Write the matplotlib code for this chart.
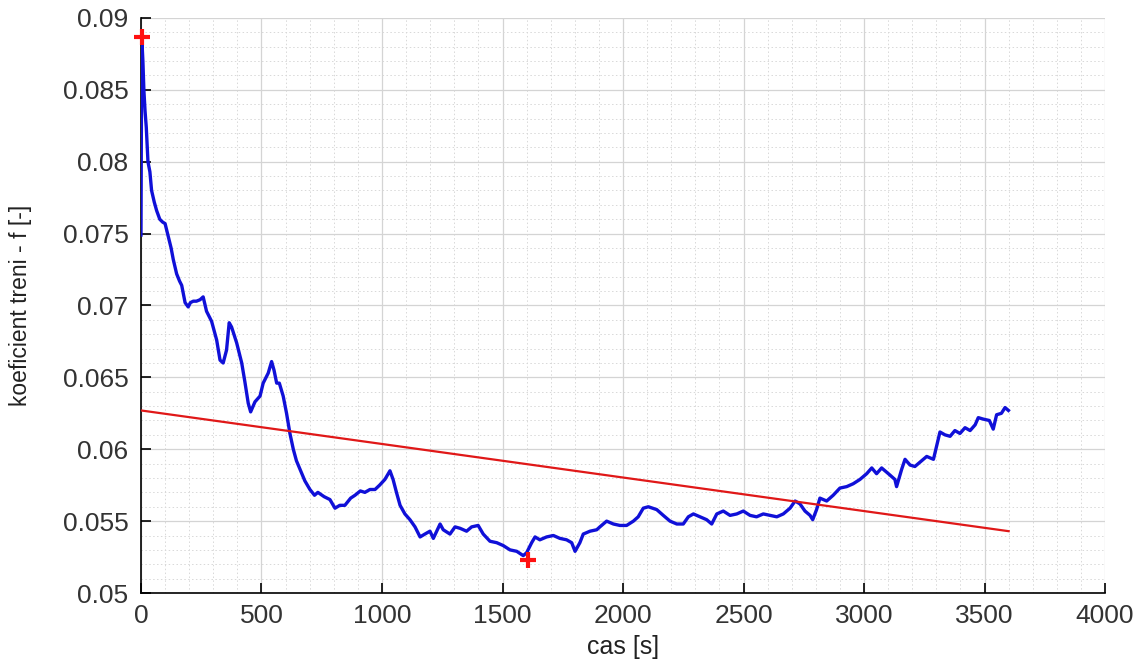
import matplotlib
matplotlib.use("Agg")
import matplotlib.pyplot as plt
from matplotlib.ticker import MultipleLocator

plt.rcParams['font.family'] = ['Liberation Sans', 'DejaVu Sans']

# measured friction coefficient over time
time_s = [0, 3, 8, 12, 17, 22, 29, 37, 44, 55, 65, 78, 90, 100, 113, 125, 134, 148, 160, 169,
          183, 196, 205, 217, 230, 245, 258, 265, 272, 293, 314, 328, 341, 355, 366, 376, 397,
          418, 431, 445, 455, 473, 494, 507, 528, 542, 552, 563, 574, 590, 604, 618, 632, 645,
          660, 680, 701, 720, 734, 760, 784, 805, 825, 846, 870, 888, 910, 929, 950, 971, 990,
          1012, 1033, 1046, 1060, 1075, 1095, 1116, 1137, 1158, 1178, 1199, 1213, 1241, 1254,
          1282, 1303, 1324, 1351, 1372, 1399, 1420, 1448, 1476, 1503, 1531, 1559, 1586, 1600,
          1621, 1635, 1655, 1683, 1711, 1738, 1766, 1787, 1801, 1821, 1835, 1863, 1891, 1904,
          1932, 1960, 1987, 2015, 2043, 2063, 2084, 2105, 2140, 2167, 2195, 2223, 2250, 2271,
          2292, 2319, 2347, 2368, 2389, 2416, 2444, 2472, 2499, 2527, 2554, 2582, 2610, 2638,
          2665, 2693, 2714, 2734, 2755, 2776, 2787, 2803, 2817, 2845, 2872, 2900, 2928, 2955,
          2983, 3011, 3032, 3052, 3073, 3101, 3128, 3135, 3156, 3170, 3191, 3211, 3232, 3260,
          3288, 3301, 3315, 3336, 3357, 3377, 3398, 3419, 3440, 3461, 3474, 3494, 3520, 3536,
          3550, 3570, 3585, 3599]
friction = [0.0749, 0.0887, 0.0870, 0.0850, 0.0835, 0.0824, 0.0800, 0.0793, 0.0780, 0.0772,
            0.0766, 0.0760, 0.0758, 0.0757, 0.0748, 0.0740, 0.0732, 0.0722, 0.0717, 0.0714,
            0.0702, 0.0699, 0.0702, 0.0703, 0.0703, 0.0704, 0.0706, 0.0701, 0.0696, 0.0689,
            0.0676, 0.0662, 0.0660, 0.0669, 0.0688, 0.0685, 0.0674, 0.0660, 0.0647, 0.0632,
            0.0626, 0.0633, 0.0637, 0.0646, 0.0653, 0.0661, 0.0655, 0.0646, 0.0646, 0.0637,
            0.0625, 0.0611, 0.0600, 0.0592, 0.0586, 0.0578, 0.0572, 0.0568, 0.0570, 0.0567,
            0.0565, 0.0559, 0.0561, 0.0561, 0.0566, 0.0568, 0.0571, 0.0570, 0.0572, 0.0572,
            0.0575, 0.0579, 0.0585, 0.0579, 0.0570, 0.0561, 0.0555, 0.0551, 0.0546, 0.0539,
            0.0541, 0.0543, 0.0538, 0.0548, 0.0544, 0.0541, 0.0546, 0.0545, 0.0543, 0.0546,
            0.0547, 0.0541, 0.0536, 0.0535, 0.0533, 0.0530, 0.0529, 0.0526, 0.0528, 0.0535,
            0.0539, 0.0537, 0.0539, 0.0540, 0.0538, 0.0537, 0.0535, 0.0529, 0.0535, 0.0541,
            0.0543, 0.0544, 0.0546, 0.0550, 0.0548, 0.0547, 0.0547, 0.0550, 0.0553, 0.0559,
            0.0560, 0.0558, 0.0554, 0.0550, 0.0548, 0.0548, 0.0553, 0.0555, 0.0553, 0.0551,
            0.0548, 0.0555, 0.0557, 0.0554, 0.0555, 0.0557, 0.0554, 0.0553, 0.0555, 0.0554,
            0.0553, 0.0555, 0.0559, 0.0564, 0.0562, 0.0557, 0.0554, 0.0551, 0.0558, 0.0566,
            0.0564, 0.0568, 0.0573, 0.0574, 0.0576, 0.0579, 0.0583, 0.0587, 0.0583, 0.0587,
            0.0583, 0.0579, 0.0574, 0.0586, 0.0593, 0.0589, 0.0588, 0.0591, 0.0595, 0.0593,
            0.0602, 0.0612, 0.0610, 0.0609, 0.0613, 0.0611, 0.0615, 0.0613, 0.0617, 0.0622,
            0.0621, 0.0620, 0.0614, 0.0624, 0.0625, 0.0629, 0.0627]

# linear trend line end points
trend_t = [0, 3600]
trend_f = [0.0627, 0.0543]

# extremes
max_t, max_f = 5, 0.0887
min_t, min_f = 1607, 0.0523

x_ticks = [0, 500, 1000, 1500, 2000, 2500, 3000, 3500, 4000]
y_ticks = [0.05, 0.055, 0.06, 0.065, 0.07, 0.075, 0.08, 0.085, 0.09]
y_tick_labels = ['0.05', '0.055', '0.06', '0.065', '0.07', '0.075', '0.08', '0.085', '0.09']

fig = plt.figure(figsize=(11.48, 6.69), dpi=100)
ax = fig.add_axes([0.1228, 0.1136, 0.8398, 0.8595])

ax.plot(time_s, friction, color='#1010d8', linewidth=2.4, zorder=3)
ax.plot(trend_t, trend_f, color='#e01818', linewidth=1.6, zorder=4)
ax.plot([max_t], [max_f], marker='+', color='#ff1010', markersize=12, mew=3, zorder=5,
        clip_on=False)
ax.plot([min_t], [min_f], marker='+', color='#ff1010', markersize=12, mew=3, zorder=5,
        clip_on=False)

ax.set_xlim(0, 4000)
ax.set_ylim(0.05, 0.09)
ax.set_xticks(x_ticks)
ax.set_yticks(y_ticks)
ax.set_yticklabels(y_tick_labels)
ax.xaxis.set_minor_locator(MultipleLocator(100))
ax.yaxis.set_minor_locator(MultipleLocator(0.001))

ax.grid(which='major', color='#d4d4d4', linestyle='-', linewidth=0.9)
ax.grid(which='minor', color='#d8d8d8', linestyle=(0, (1.5, 2.5)), linewidth=0.7)
ax.set_axisbelow(True)

for s in ['top', 'right']:
    ax.spines[s].set_visible(False)
for s in ['left', 'bottom']:
    ax.spines[s].set_color('black')
    ax.spines[s].set_linewidth(1.2)

ax.tick_params(which='major', direction='in', length=7, width=1.2, labelsize=19,
               colors='black', labelcolor='#333333')
ax.tick_params(axis='y', which='major', pad=9)
ax.tick_params(axis='x', which='major', pad=8)
ax.tick_params(which='minor', length=0)

ax.set_xlabel('cas [s]', fontsize=18, color='#222222', labelpad=5)
ax.set_ylabel('koeficient treni - f [-]', fontsize=16.5, color='#222222', labelpad=22)

fig.savefig('out.png', dpi=100)
